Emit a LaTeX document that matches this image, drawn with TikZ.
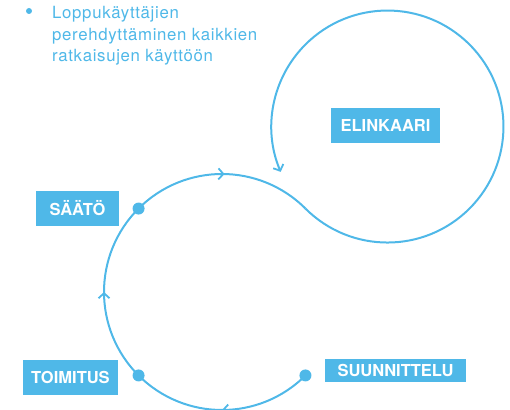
\documentclass[tikz,border=0pt]{standalone}
\usepackage{fontspec}
\setmainfont{TeX Gyre Heros}
\newfontfamily\harva[LetterSpace=4]{TeX Gyre Heros}
\usetikzlibrary{arrows.meta, decorations.markings, positioning}
\definecolor{kaari}{RGB}{79,184,232}
\tikzset{
    vaihe/.style={fill=kaari, text=white, font=\fontsize{16.5}{18}\selectfont\bfseries, inner sep=0pt, minimum height=35pt},
    piste/.style={circle, fill=kaari, minimum size=12pt, inner sep=0pt},
    polku/.style={draw=kaari, line width=2pt},
    nuolet/.style={decoration={markings,
        mark=at position 0.1667 with {\arrow{Straight Barb[length=5pt, width=11pt, line width=1.8pt]}},
        mark=at position 0.5 with {\arrow{Straight Barb[length=5pt, width=11pt, line width=1.8pt]}},
        mark=at position 0.838 with {\arrow{Straight Barb[length=5pt, width=11pt, line width=1.8pt]}}},
        postaction={decorate}},
    loppu/.style={-{Straight Barb[length=5pt, width=11pt, line width=1.8pt]}}
}

\begin{document}
\begin{tikzpicture}[x=1pt, y=1pt]
    \useasboundingbox (0,0) rectangle (510,409);
    \coordinate (pieni) at (222,117);
    \coordinate (iso) at (388,282);
    % vaiheiden pisteet
    \node[piste] (suu) at ([shift={(-45:118)}]pieni) {};
    \node[piste] (toi) at ([shift={(-135:118)}]pieni) {};
    \node[piste] (saa) at ([shift={(135:118)}]pieni) {};
    \coordinate (kosketus) at ([shift={(45:118)}]pieni);
    \draw[polku, nuolet] (suu.center) arc[start angle=-45, end angle=-315, radius=118];
    \draw[polku, loppu] (kosketus) arc[start angle=225, end angle=563, radius=116];
    % nimet
    \node[vaihe, minimum width=83pt] (saat) at (77.5,200.5) {SÄÄTÖ};
    \node[vaihe, minimum width=95pt] (toim) at (70.5,32) {TOIMITUS};
    \node[vaihe, minimum width=141pt, minimum height=23pt] (suun) at (395.5,38.5) {SUUNNITTELU};
    \node[vaihe, minimum width=109pt] (elin) at (385.5,283.5) {ELINKAARI};
    % luettelo
    \node[circle, fill=kaari, minimum size=6pt, inner sep=0pt] (luoti) at (29,398) {};
    \node[anchor=base west, align=left, text=kaari, inner sep=0pt,
        font=\harva\fontsize{16.8}{21.5}\selectfont] (teksti) at (52,347)
        {Loppukäyttäjien\\perehdyttäminen kaikkien\\ratkaisujen käyttöön};
\end{tikzpicture}
\end{document}
